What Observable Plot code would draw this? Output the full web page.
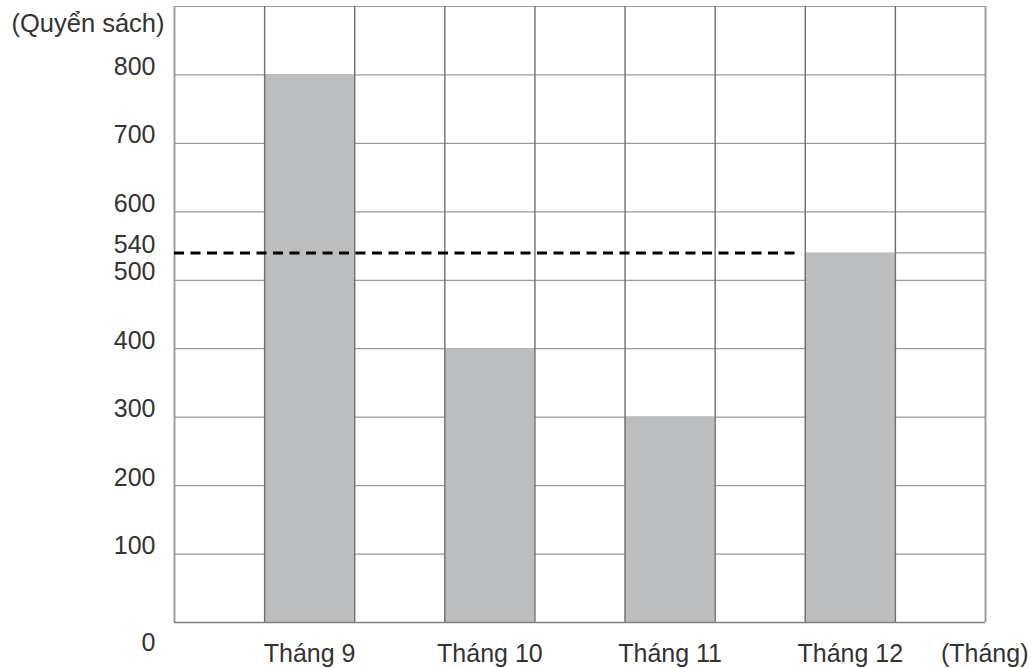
<!DOCTYPE html>
<html><head><meta charset="utf-8">
<script src="https://cdn.jsdelivr.net/npm/d3@7"></script>
<script src="https://cdn.jsdelivr.net/npm/@observablehq/plot@0.6"></script>
<style>body{margin:0;background:#fff} svg{display:block;font-family:"Liberation Sans",Arial,sans-serif}</style>
</head><body><div id="chart"></div>
<script>
const months = ["Tháng 9", "Tháng 10", "Tháng 11", "Tháng 12"];
const books = [800, 400, 300, 540];
const yTicks = [100, 200, 300, 400, 500, 600, 700, 800];
const average = 540;
const yUnit = "(Quyển sách)";
const xUnit = "(Tháng)";
const columnCount = 9;
const yMax = 900;

const bars = months.map((m, i) => ({month: m, value: books[i], col: 2 * i + 1}));
const colLines = d3.range(0, columnCount + 1);
const rowLines = d3.range(0, yMax + 1, 100);
const lastCol = columnCount - 1;
const avgEnd = 2 * (months.length - 1) + 1;

const txt = "#333333";
const fs = 25;

const chart = Plot.plot({
  width: 1031,
  height: 668,
  marginLeft: 174,
  marginRight: 46,
  marginTop: 6,
  marginBottom: 46,
  x: {domain: [0, columnCount], axis: null},
  y: {domain: [0, yMax], axis: null},
  style: {fontFamily: "'Liberation Sans', Arial, sans-serif", background: "#fff"},
  marks: [
    Plot.ruleY(rowLines, {stroke: "#9a9a9a", strokeWidth: 1.2}),
    Plot.ruleY([average], {x1: lastCol, x2: columnCount, stroke: "#9a9a9a", strokeWidth: 1.2}),
    Plot.rect(bars, {x1: "col", x2: d => d.col + 1, y1: 0, y2: "value", fill: "#bcbdbf"}),
    Plot.ruleX(colLines, {stroke: "#6e6e6e", strokeWidth: 1.4}),
    Plot.ruleX([0, columnCount], {stroke: "#9a9a9a", strokeWidth: 1.4}),
    Plot.ruleY([0], {stroke: "#808080", strokeWidth: 1.6}),
    Plot.ruleY([average], {x1: 0, x2: avgEnd - 0.04, stroke: "#000", strokeWidth: 3, strokeDasharray: "10,6.5"}),
    // y labels
    Plot.text(yTicks, {x: 0, y: d => d, text: d => String(d), textAnchor: "end", dx: -19, dy: -8, fontSize: fs, fill: txt}),
    Plot.text([average], {x: 0, y: d => d, text: d => String(d), textAnchor: "end", dx: -19, dy: -8, fontSize: fs, fill: txt}),
    Plot.text([0], {x: 0, y: d => d, text: d => String(d), textAnchor: "end", dx: -19, dy: 20, fontSize: fs, fill: txt}),
    Plot.text([yUnit], {x: 0, y: yMax, text: d => d, textAnchor: "end", dx: -10, dy: 17, fontSize: 25.5, fill: txt}),
    // x labels
    Plot.text(bars, {x: d => d.col + 0.5, y: 0, text: "month", dy: 31, fontSize: fs, fill: txt}),
    Plot.text([xUnit], {x: columnCount, y: 0, text: d => d, textAnchor: "end", dx: 43, dy: 31, fontSize: fs, fill: txt})
  ]
});
document.getElementById("chart").appendChild(chart);
</script>
</body></html>
